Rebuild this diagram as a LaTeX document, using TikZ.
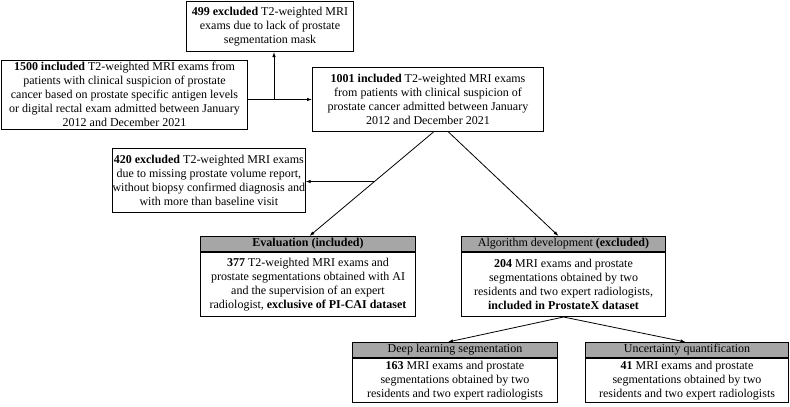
\documentclass[tikz,border=0pt]{standalone}
\usepackage{fontspec}
\setmainfont{Liberation Serif}
\usetikzlibrary{arrows.meta,calc}
\begin{document}
\begin{tikzpicture}[x=1pt,y=-1pt,
  every node/.style={font=\fontsize{12}{14}\selectfont},
  box/.style={draw=black,line width=1pt,fill=white,anchor=north west,inner sep=0pt,align=center},
  hdr/.style={box,fill=black!35},
  arr/.style={line width=0.8pt,-{Latex[length=5pt,width=3.5pt]}},
  ln/.style={line width=0.8pt}]
\useasboundingbox[fill=white] (0,0) rectangle (790,407);
% boxes
\node[box,minimum width=167pt,minimum height=50pt] (b499) at (186,1)
  {\textbf{499 excluded} T2-weighted MRI\\exams due to lack of prostate\\segmentation mask};
\node[box,minimum width=246pt,minimum height=69pt] (b1500) at (1,59.5)
  {\textbf{1500 included} T2-weighted MRI exams from\\patients with clinical suspicion of prostate\\cancer based on prostate specific antigen levels\\or digital rectal exam admitted between January\\2012 and December 2021};
\node[box,minimum width=231pt,minimum height=64pt] (b1001) at (312,67)
  {\textbf{1001 included} T2-weighted MRI exams\\from patients with clinical suspicion of\\prostate cancer admitted between January\\2012 and December 2021};
\node[box,minimum width=191pt,minimum height=64pt] (b420) at (112,148)
  {\textbf{420 excluded} T2-weighted MRI exams\\due to missing prostate volume report,\\without biopsy confirmed diagnosis and\\with more than baseline visit};
% evaluation
\node[hdr,minimum width=215pt,minimum height=14.5pt] (hEval) at (200,236)
  {\textbf{Evaluation (included)}};
\node[box,minimum width=215pt,minimum height=64.5pt] (bEval) at (hEval.south west)
  {\textbf{377} T2-weighted MRI exams and\\prostate segmentations obtained with AI\\and the supervision of an expert\\radiologist, \textbf{exclusive of PI-CAI dataset}};
% algorithm
\node[hdr,minimum width=204pt,minimum height=15pt] (hAlgo) at (461,236)
  {Algorithm development \textbf{(excluded)}};
\node[box,minimum width=204pt,minimum height=64pt] (bAlgo) at (hAlgo.south west)
  {\textbf{204} MRI exams and prostate\\segmentations obtained by two\\residents and two expert radiologists,\\\textbf{included in ProstateX dataset}};
% deep learning
\node[hdr,minimum width=205pt,minimum height=14.5pt] (hDL) at (352,342)
  {Deep learning segmentation};
\node[box,minimum width=205pt,minimum height=44.5pt] (bDL) at (hDL.south west)
  {\textbf{163} MRI exams and prostate\\segmentations obtained by two\\residents and two expert radiologists};
% uncertainty
\node[hdr,minimum width=203pt,minimum height=14.5pt] (hUnc) at (585,342)
  {Uncertainty quantification};
\node[box,minimum width=203pt,minimum height=44.5pt] (bUnc) at (hUnc.south west)
  {\textbf{41} MRI exams and prostate\\segmentations obtained by two\\residents and two expert radiologists};
% connectors
\draw[arr] (b1500.east |- b1001.west) -- (b1001.west);
\coordinate (j) at (274,0 |- b1001.west);
\draw[arr] (j) -- (j |- b499.south);
\coordinate (p1) at ([xshift=5.5pt]b1001.south);
\coordinate (p2) at ([xshift=20.5pt]b1001.south);
\draw[arr] (p1) -- ([xshift=1.5pt]hEval.north);
\coordinate (q) at ($(p1)!0.476!([xshift=1.5pt]hEval.north)$);
\draw[arr] (q) -- (b420.east |- q);
\draw[arr] (p2) -- ([xshift=-5pt]hAlgo.north);
\draw[arr] (bAlgo.south) -- ([xshift=-7pt]hDL.north);
\draw[arr] (bAlgo.south) -- ([xshift=-1.5pt]hUnc.north);
\end{tikzpicture}
\end{document}
